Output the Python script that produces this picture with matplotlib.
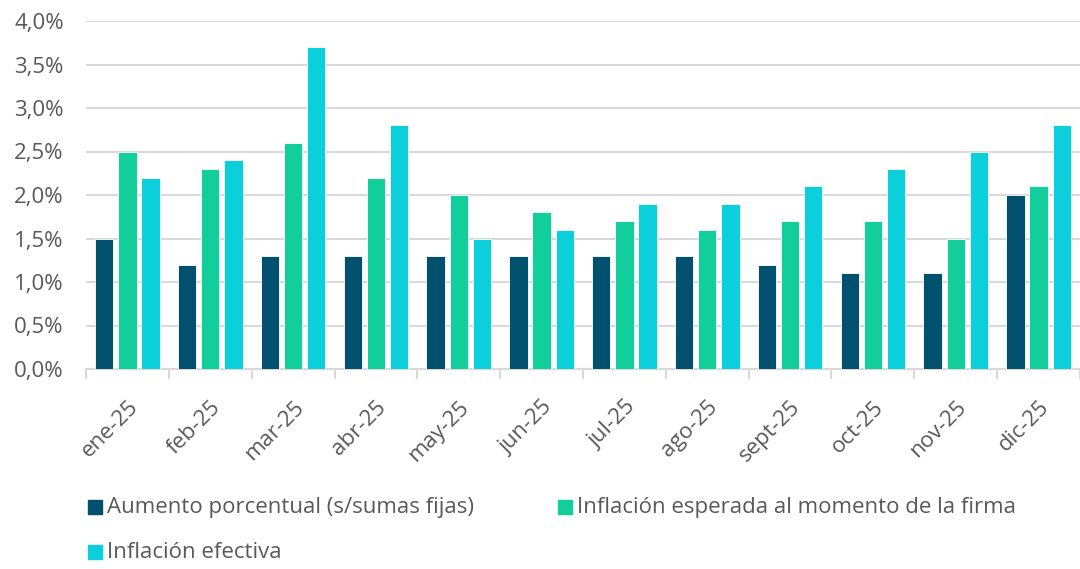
import matplotlib.pyplot as plt
import numpy as np
from matplotlib.patches import Rectangle
from matplotlib.ticker import FuncFormatter, FixedLocator, NullFormatter

plt.rcParams['font.family'] = ['Open Sans', 'DejaVu Sans']

months = ["ene-25", "feb-25", "mar-25", "abr-25", "may-25", "jun-25",
          "jul-25", "ago-25", "sept-25", "oct-25", "nov-25", "dic-25"]
aumento = [1.5, 1.2, 1.3, 1.3, 1.3, 1.3, 1.3, 1.3, 1.2, 1.1, 1.1, 2.0]
esperada = [2.5, 2.3, 2.6, 2.2, 2.0, 1.8, 1.7, 1.6, 1.7, 1.7, 1.5, 2.1]
efectiva = [2.2, 2.4, 3.7, 2.8, 1.5, 1.6, 1.9, 1.9, 2.1, 2.3, 2.5, 2.8]
labels = ["Aumento porcentual (s/sumas fijas)",
          "Inflación esperada al momento de la firma",
          "Inflación efectiva"]
colors = ["#00506E", "#12CE9A", "#0BCFDA"]
TXT = "#595959"
GRID = "#D9D9D9"

fig = plt.figure(figsize=(10.8, 5.69), dpi=100)
ax = fig.add_axes([86/1080, 1 - 369/569, 1 - 86/1080, (369 - 21)/569])

x = np.arange(len(months))
w = 0.22
step = 0.28
for i, (vals, c) in enumerate(zip([aumento, esperada, efectiva], colors)):
    ax.bar(x + (i - 1)*step, vals, width=w, color=c, edgecolor="white",
           linewidth=0.6, zorder=3)

ax.set_xlim(-0.5, len(months) - 0.5)
ax.set_ylim(0, 4.0)
ax.set_yticks(np.arange(0, 4.01, 0.5))
ax.yaxis.set_major_formatter(FuncFormatter(lambda v, p: f"{v:.1f}%".replace(".", ",")))
ax.grid(axis="y", color=GRID, linewidth=1.5, zorder=0)
ax.tick_params(axis="y", length=0, labelsize=16, labelcolor=TXT, pad=16)

ax.set_xticks(x)
ax.set_xticklabels(months, rotation=45, ha="right", rotation_mode="anchor",
                   fontsize=16, color=TXT)
ax.tick_params(axis="x", which="major", length=0, pad=20)
ax.xaxis.set_minor_locator(FixedLocator(np.arange(-0.5, len(months), 1.0)))
ax.xaxis.set_minor_formatter(NullFormatter())
ax.tick_params(axis="x", which="minor", length=7, color=GRID, width=1.5)

for s in ["top", "right", "left"]:
    ax.spines[s].set_visible(False)
ax.spines["bottom"].set_color(GRID)
ax.spines["bottom"].set_linewidth(1.5)
ax.set_axisbelow(True)

# legend
leg_pos = [(88, 507), (558, 507), (88, 552)]
for (px, py), lab, c in zip(leg_pos, labels, colors):
    fig.patches.append(Rectangle((px/1080, 1 - (py + 7)/569), 14/1080, 14/569,
                                 transform=fig.transFigure, color=c))
    fig.text((px + 19)/1080, 1 - py/569, lab, fontsize=16, color=TXT,
             va="center", ha="left")

fig.savefig("out.png", dpi=100)
